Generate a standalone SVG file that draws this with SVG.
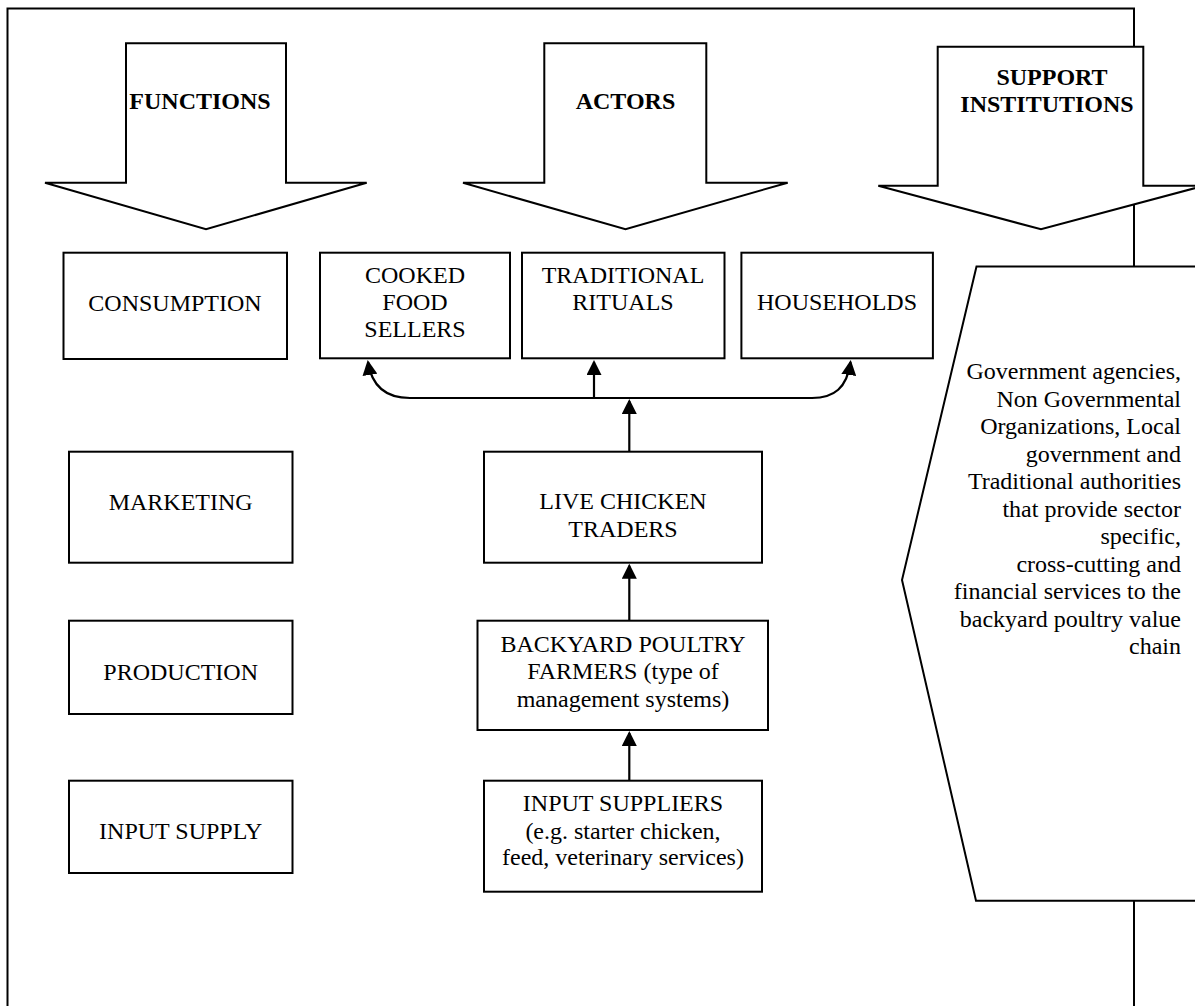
<svg xmlns="http://www.w3.org/2000/svg" width="1195" height="1006" viewBox="0 0 1195 1006">
<defs>
<style>
.shape{fill:#fff;stroke:#000;stroke-width:2;stroke-linejoin:miter}
.frame{fill:none;stroke:#000;stroke-width:2}
.t{font-family:"Liberation Serif","Times New Roman",serif;font-size:24px;fill:#000;text-anchor:middle}
.h{font-family:"Liberation Serif","Times New Roman",serif;font-size:24px;font-weight:bold;fill:#000;text-anchor:middle}
.r{font-family:"Liberation Serif","Times New Roman",serif;font-size:24px;fill:#000;text-anchor:end}
.c{fill:none;stroke:#000;stroke-width:2.2}
</style>
<marker id="ah" viewBox="0 0 15 15" refX="13" refY="7.5" markerWidth="15" markerHeight="15" markerUnits="userSpaceOnUse" orient="auto">
<path d="M0,0 L15,7.5 L0,15 z" fill="#000"/>
</marker>
</defs>
<rect width="1195" height="1006" fill="#fff"/>
<path class="frame" d="M7.5,1010 V8.5 H1134 V1010"/>

<g id="functions-header">
<polygon class="shape" points="126,43.3 286,43.3 286,182.7 366.7,182.7 206,229.3 45,182.7 126,182.7"/>
<text class="h" x="200" y="109">FUNCTIONS</text>
</g>
<g id="actors-header">
<polygon class="shape" points="544.3,43.3 706.3,43.3 706.3,182.7 787.7,182.7 625.5,229.3 463,182.7 544.3,182.7"/>
<text class="h" x="625.5" y="109">ACTORS</text>
</g>
<g id="support-header">
<polygon class="shape" points="937.7,46.7 1143.3,46.7 1143.3,185.7 1204,185.7 1041,229.3 878.3,185.7 937.7,185.7"/>
<text class="h" x="1052" y="85">SUPPORT</text>
<text class="h" x="1047" y="111.5">INSTITUTIONS</text>
</g>

<g id="support-institutions">
<polygon class="shape" points="976.5,266.5 1210,266.5 1210,900.7 976,900.7 902,580"/>
<text class="r" x="1181" y="379">Government agencies,</text>
<text class="r" x="1181" y="406.5">Non Governmental</text>
<text class="r" x="1181" y="434">Organizations, Local</text>
<text class="r" x="1181" y="461.5">government and</text>
<text class="r" x="1181" y="489">Traditional authorities</text>
<text class="r" x="1181" y="516.5">that provide sector</text>
<text class="r" x="1181" y="544">specific,</text>
<text class="r" x="1181" y="571.5">cross-cutting and</text>
<text class="r" x="1181" y="599">financial services to the</text>
<text class="r" x="1181" y="626.5">backyard poultry value</text>
<text class="r" x="1181" y="654">chain</text>
</g>

<g id="consumption">
<rect class="shape" x="63.5" y="252.7" width="223.5" height="106.3"/>
<text class="t" x="175" y="310.7">CONSUMPTION</text>
</g>
<g id="marketing">
<rect class="shape" x="69" y="451.7" width="223.5" height="111"/>
<text class="t" x="180.7" y="510">MARKETING</text>
</g>
<g id="production">
<rect class="shape" x="69" y="620.7" width="223.5" height="93.3"/>
<text class="t" x="180.7" y="680">PRODUCTION</text>
</g>
<g id="input-supply">
<rect class="shape" x="69" y="780.7" width="223.5" height="92.3"/>
<text class="t" x="180.7" y="839.3">INPUT SUPPLY</text>
</g>

<g id="cooked-food-sellers">
<rect class="shape" x="320" y="252.7" width="190" height="105.6"/>
<text class="t" x="415" y="283.3">COOKED</text>
<text class="t" x="415" y="310">FOOD</text>
<text class="t" x="415" y="337">SELLERS</text>
</g>
<g id="traditional-rituals">
<rect class="shape" x="522" y="252.7" width="202.5" height="105.6"/>
<text class="t" x="623" y="283.3">TRADITIONAL</text>
<text class="t" x="623" y="310">RITUALS</text>
</g>
<g id="households">
<rect class="shape" x="741.4" y="252.7" width="191.5" height="105.6"/>
<text class="t" x="837" y="310">HOUSEHOLDS</text>
</g>
<g id="live-chicken-traders">
<rect class="shape" x="484" y="451.7" width="278" height="111"/>
<text class="t" x="623" y="509.3">LIVE CHICKEN</text>
<text class="t" x="623" y="536.7">TRADERS</text>
</g>
<g id="backyard-poultry-farmers">
<rect class="shape" x="477.5" y="620.7" width="290.5" height="109.3"/>
<text class="t" x="623" y="651.7">BACKYARD POULTRY</text>
<text class="t" x="623" y="679.3">FARMERS (type of</text>
<text class="t" x="623" y="706.7">management systems)</text>
</g>
<g id="input-suppliers">
<rect class="shape" x="484" y="780.7" width="278" height="111"/>
<text class="t" x="623" y="810.7">INPUT SUPPLIERS</text>
<text class="t" x="623" y="838.7">(e.g. starter chicken,</text>
<text class="t" x="623" y="865">feed, veterinary services)</text>
</g>

<g id="connectors">
<path class="c" d="M629.3,780.7 V733" marker-end="url(#ah)"/>
<path class="c" d="M629.3,620.7 V565.7" marker-end="url(#ah)"/>
<path class="c" d="M629.3,451.7 V401" marker-end="url(#ah)"/>
<path class="c" d="M594,398 V362" marker-end="url(#ah)"/>
<path class="c" d="M595,398 H410 C388,398 372,388 368,362" marker-end="url(#ah)"/>
<path class="c" d="M594,398 H812 C834,398 847,388 850.5,362" marker-end="url(#ah)"/>
</g>
</svg>
